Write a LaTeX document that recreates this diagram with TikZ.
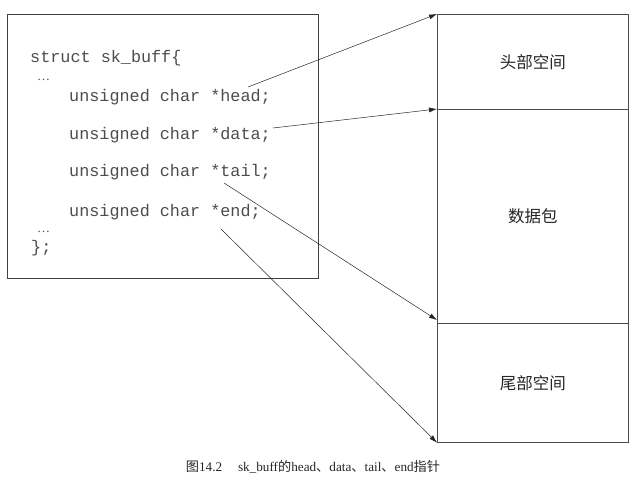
\documentclass[tikz,border=0pt]{standalone}
\usepackage{fontspec}
\setmainfont{Liberation Serif}
\setmonofont{Liberation Mono}
\newfontfamily\cjk{Noto Sans CJK SC}
\usetikzlibrary{arrows.meta}
\begin{document}
\begin{tikzpicture}[x=1pt,y=-1pt,
  code/.style={anchor=west,inner sep=0pt,font=\ttfamily\fontsize{16.8}{18}\selectfont,text=black!70},
  dots/.style={anchor=base west,inner sep=0pt,font=\fontsize{13}{14}\selectfont,text=black!70},
  seg/.style={draw=black!70,line width=0.7pt,minimum width=191pt,inner sep=0pt,anchor=north west},
  cn/.style={font=\cjk\fontsize{16.5}{18}\selectfont,text=black!85},
  ptr/.style={draw=black!85,line width=0.5pt,-{Latex[length=8pt,width=5pt]}}]
\useasboundingbox (0,0) rectangle (635,482);
% left struct box
\node[draw=black!75,line width=0.7pt,minimum width=311pt,minimum height=264pt,inner sep=0pt,anchor=north west] (struct) at (7,14) {};
\node[code] (l0) at (30,58) {struct sk\_buff\{};
\node[dots] (d1) at (37,80) {…};
\node[code] (lhead) at (69,97) {unsigned char *head;};
\node[code] (ldata) at (69,135) {unsigned char *data;};
\node[code] (ltail) at (69,172) {unsigned char *tail;};
\node[code] (lend) at (69,212) {unsigned char *end;};
\node[dots] (d2) at (37,232) {…};
\node[code] (l5) at (31,248) {\};};
% right buffer
\node[seg,minimum height=95pt] (headroom) at (437,14) {};
\node[seg,minimum height=214pt] (packet) at (437,109) {};
\node[seg,minimum height=119pt] (tailroom) at (437,323) {};
\node[cn] at (headroom.center) {头部空间};
\node[cn] at (packet.center) {数据包};
\node[cn] at (tailroom.center) {尾部空间};
% pointer start points
\coordinate (shead) at (248,87);
\coordinate (sdata) at (273,128);
\coordinate (stail) at (224,183);
\coordinate (send) at (221,229);
\coordinate (etail) at ([yshift=3pt]tailroom.north west);
\draw[ptr] (shead) -- (headroom.north west);
\draw[ptr] (sdata) -- (packet.north west);
\draw[ptr] (stail) -- (etail);
\draw[ptr] (send) -- (tailroom.south west);
% caption
\node[font=\fontsize{13.2}{15}\selectfont,text=black!85] (cap) at (313,467) {{\cjk 图}14.2\hspace{1.2em}sk\_buff{\cjk 的}head{\cjk 、}data{\cjk 、}tail{\cjk 、}end{\cjk 指针}};
\end{tikzpicture}
\end{document}
